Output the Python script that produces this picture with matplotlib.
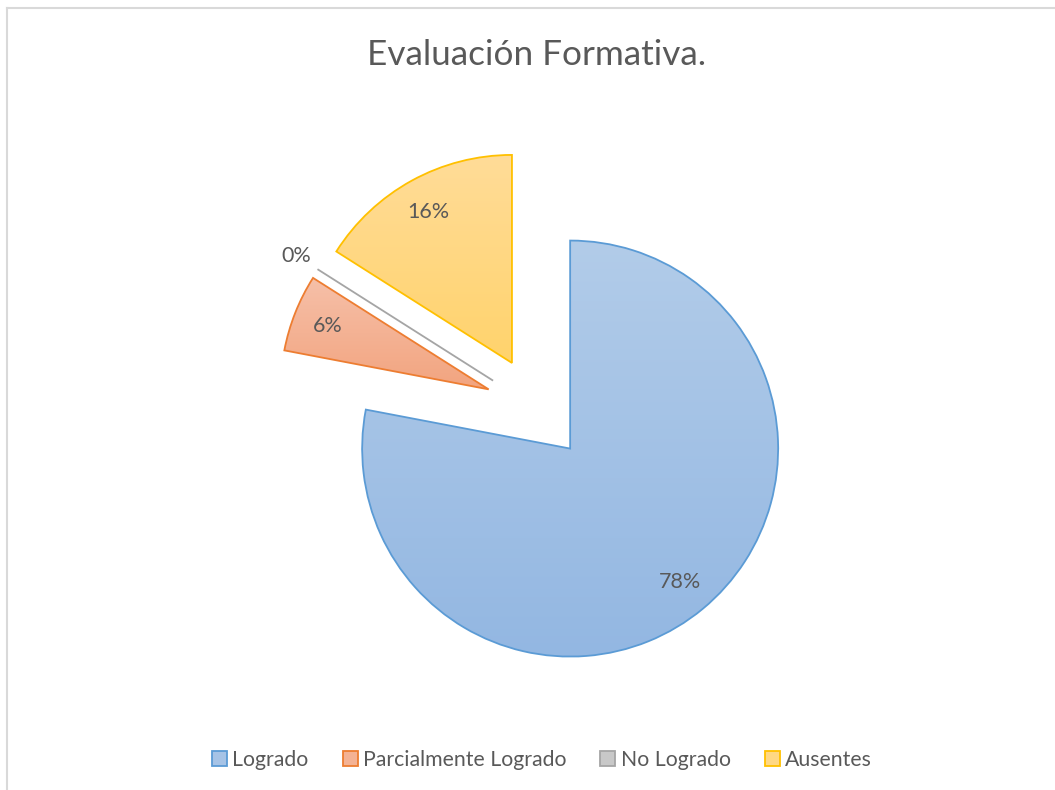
import numpy as np
import matplotlib
matplotlib.use("Agg")
import matplotlib.pyplot as plt
from matplotlib.colors import LinearSegmentedColormap
from matplotlib.lines import Line2D

categories = ["Logrado", "Parcialmente Logrado", "No Logrado", "Ausentes"]
values = [78, 6, 0, 16]
edge_colors = ["#5B9BD5", "#ED7D31", "#A5A5A5", "#FFC000"]
top_colors = ["#B2CCE9", "#F6C0A9", "#D0D0D0", "#FFDC98"]
bottom_colors = ["#93B7E2", "#F2A47F", "#BDBDBD", "#FFD36C"]
mid_colors = ["#A6C3E6", "#F4B294", "#C8C8C8", "#FFD884"]
title = "Evaluación Formativa."

W, H = 1055, 790
R_PX = 208.0
CX, CY = 537.0, 408.5  # pie center in image pixels (y down)

plt.rcParams['font.family'] = ['Lato', 'DejaVu Sans']
fig = plt.figure(figsize=(W / 100, H / 100), dpi=100)
ax = fig.add_axes([0, 0, 1, 1])

wedges, texts, autotexts = ax.pie(
    values,
    explode=[0.25] * len(values),
    startangle=90,
    counterclock=False,
    colors=mid_colors,
    autopct=lambda p: f"{p:.0f}%",
    pctdistance=0.83,
    radius=1.0,
    wedgeprops=dict(linewidth=1.3),
    textprops=dict(color="#595959", fontsize=15.5),
)

for w, ec in zip(wedges, edge_colors):
    w.set_edgecolor(ec)

# gradient fills
for w, v, tc, bc in zip(wedges, values, top_colors, bottom_colors):
    if v == 0:
        continue
    ext = w.get_path().get_extents()
    cmap = LinearSegmentedColormap.from_list("g", [bc, tc])
    grad = np.linspace(0, 1, 256).reshape(-1, 1)
    im = ax.imshow(grad, cmap=cmap, origin="lower", aspect="auto",
                   extent=[ext.x0, ext.x1, ext.y0, ext.y1], zorder=w.get_zorder() - 0.01)
    im.set_clip_path(w)
    w.set_facecolor("none")

# zero-value label placed outside its slice
for w, v, t in zip(wedges, values, autotexts):
    if v == 0:
        ang = np.deg2rad((w.theta1 + w.theta2) / 2)
        cx, cy = w.center
        t.set_position((cx + 1.12 * np.cos(ang), cy + 1.12 * np.sin(ang)))

ax.set_aspect("auto")
ax.set_xlim(-CX / R_PX, (W - CX) / R_PX)
ax.set_ylim((CY - H) / R_PX, CY / R_PX)
ax.axis("off")

fig.text(537 / W, 1 - 55 / H, title, ha="center", va="center",
         fontsize=25.3, color="#595959")

# legend
handles = [plt.Rectangle((0, 0), 1, 1, facecolor=m, edgecolor=e, linewidth=1.3)
           for m, e in zip(mid_colors, edge_colors)]
fig.legend(handles, categories, loc="center", bbox_to_anchor=(542 / W, 1 - 760 / H),
           ncol=4, frameon=False, fontsize=15.3, labelcolor="#595959",
           handlelength=0.7, handleheight=0.7, handletextpad=0.25,
           columnspacing=1.6)

# chart border
fig.add_artist(Line2D([7 / W, 7 / W], [0, 1 - 8 / H], transform=fig.transFigure,
                      color="#D9D9D9", linewidth=1.5))
fig.add_artist(Line2D([7 / W, 1], [1 - 8 / H, 1 - 8 / H], transform=fig.transFigure,
                      color="#D9D9D9", linewidth=1.5))

fig.savefig("out.png", dpi=100, facecolor="white")
